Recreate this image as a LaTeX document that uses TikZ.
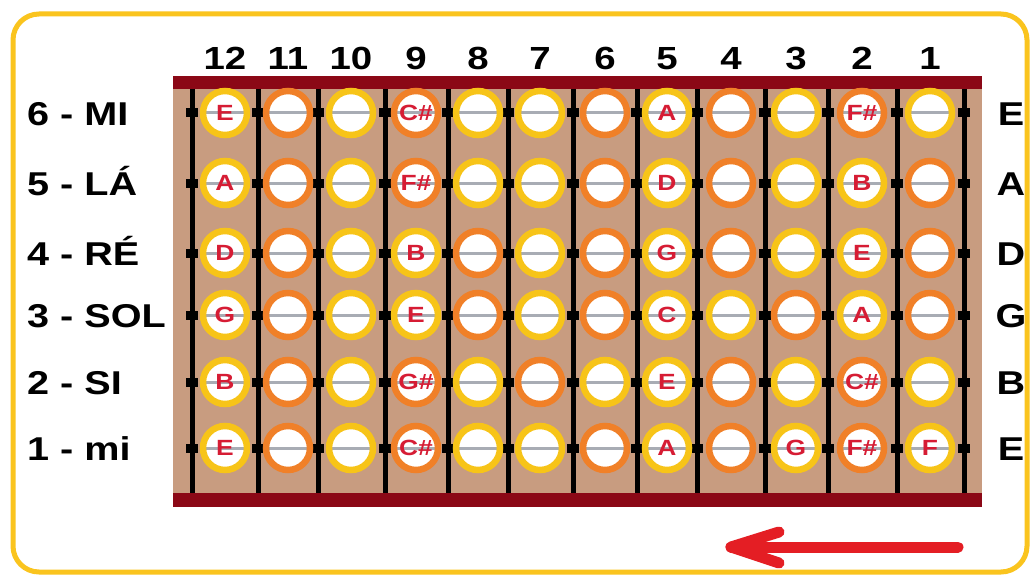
\documentclass[tikz,border=0pt]{standalone}
\usepackage{fontspec}
\setmainfont{Liberation Sans}[FakeStretch=1.2]
\usetikzlibrary{positioning,arrows.meta,calc}
\definecolor{rimgold}{RGB}{250,196,30}
\definecolor{fretbrown}{RGB}{200,156,128}
\definecolor{barred}{RGB}{139,8,22}
\definecolor{ringy}{RGB}{247,196,24}
\definecolor{ringo}{RGB}{240,128,40}
\definecolor{notered}{RGB}{214,28,52}
\definecolor{stringgray}{RGB}{168,172,180}
\definecolor{arrowred}{RGB}{228,30,36}

\begin{document}
\begin{tikzpicture}[
    x=1pt, y=-1pt,
    every node/.style={font=\bfseries},
    strname/.style={font=\bfseries\fontsize{33}{36}\selectfont, inner sep=0pt},
    fretnum/.style={font=\bfseries\fontsize{32}{36}\selectfont, inner sep=0pt},
    note/.style={circle, minimum size=44pt, inner sep=0pt, line width=6.5pt, fill=white, text=notered,
      font=\bfseries\fontsize{22}{24}\selectfont,
      path picture={\draw[stringgray, line width=3pt] (path picture bounding box.west) -- (path picture bounding box.east);}},
    fretline/.style={line width=5pt},
    arrowline/.style={line width=11pt, arrowred, line cap=round, line join=round}
  ]
    \fill[white] (0,0) rectangle (1033,575);
    \useasboundingbox (0,0) rectangle (1033,575);
    \draw[rimgold, line width=5pt, rounded corners=26pt] (13,14) rectangle (1027,572);

    \fill[fretbrown] (173,89) rectangle (982,493);
    \fill[barred] (173,76) rectangle (982,89);
    \fill[barred] (173,493) rectangle (982,507);
    \foreach \x in {192,258,318,385,448,508,573,637,697,765,828,897,964} {
      \draw[fretline] (\x,89) -- (\x,493);
      \foreach \y in {113,183,253,315,382,448}
        \fill (\x-6,\y-4.5) rectangle ++(12,9);
    }

    \def\colx{{225,288,351,416,478,540,605,667,731,796,862,930}}
    \foreach \n [count=\c] in {12,11,10,9,8,7,6,5,4,3,2,1} {
      \pgfmathsetmacro\cx{\colx[\c-1]}
      \node[fretnum, anchor=base] (fret_\n) at (\cx,70) {\n};
    }

    \foreach \y/\cells [count=\r] in {
        113/{y/E,o/{},y/{},o/C\#,y/{},y/{},o/{},y/A,o/{},y/{},o/F\#,y/{}},
        183/{y/A,o/{},y/{},o/F\#,y/{},y/{},o/{},y/D,o/{},y/{},y/B,o/{}},
        253/{y/D,o/{},y/{},y/B,o/{},y/{},o/{},y/G,o/{},y/{},y/E,o/{}},
        315/{y/G,o/{},y/{},y/E,o/{},y/{},o/{},y/C,y/{},o/{},y/A,o/{}},
        382/{y/B,o/{},y/{},o/G\#,y/{},o/{},y/{},y/E,o/{},y/{},o/C\#,y/{}},
        448/{y/E,o/{},y/{},o/C\#,y/{},y/{},o/{},y/A,o/{},y/G,o/F\#,y/F}} {
      \foreach \t/\l [count=\c] in \cells {
        \pgfmathsetmacro\cx{\colx[\c-1]}
        \node[note, draw=ring\t] (n\r_\c) at (\cx,\y) {\l};
      }
    }

    \foreach \y/\lbl/\open [count=\r] in {113/6 - MI/E, 183/5 - LÁ/A, 253/4 - RÉ/D,
        315/3 - SOL/G, 382/2 - SI/B, 448/1 - mi/E} {
      \node[strname, anchor=base west] (str_\r) at (27,\y+12) {\lbl};
      \node[strname, anchor=base] (open_\r) at (1011,\y+12) {\open};
    }

    \coordinate (arrow_tail) at (958,547);
    \coordinate (arrow_tip) at (731,547);
    \draw[arrowline] (arrow_tail) -- (arrow_tip);
    \draw[arrowline] ($(arrow_tip)+(48,-15)$) -- (arrow_tip) -- ($(arrow_tip)+(48,16)$);
  \end{tikzpicture}
\end{document}
